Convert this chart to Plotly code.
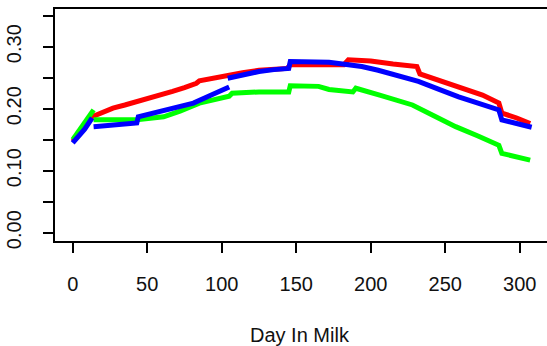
import plotly.graph_objects as go

# Data (day in milk vs value); None = break between segments
red_day = [0, 4, 8, 13, 20, 27, 35, 43, 51, 59, 67, 75, 83, 85, 95, 103, 114, 125, 136, 144, 146, 165, 182, 185, 200, 215, 231, 233, 246, 261, 275, 286, 288, 298, 307]
red_val = [0.147, 0.158, 0.170, 0.187, 0.195, 0.201, 0.206, 0.211, 0.216, 0.222, 0.228, 0.234, 0.241, 0.245, 0.250, 0.254, 0.258, 0.262, 0.264, 0.265, 0.271, 0.271, 0.271, 0.279, 0.277, 0.272, 0.268, 0.256, 0.246, 0.233, 0.222, 0.209, 0.193, 0.185, 0.176]

green_day = [0, 4, 8, 14, None, 14, 30, 43, 61, 72, 85, 96, 105, 107, 125, 145, 146, 165, 172, 188, 190, 206, 217, 228, 242, 257, 272, 286, 288, 298, 307]
green_val = [0.150, 0.163, 0.177, 0.198, None, 0.182, 0.182, 0.182, 0.187, 0.196, 0.209, 0.216, 0.220, 0.225, 0.227, 0.227, 0.237, 0.236, 0.231, 0.227, 0.233, 0.222, 0.215, 0.206, 0.189, 0.171, 0.156, 0.141, 0.128, 0.122, 0.117]

blue_day = [0, 4, 8, 13, None, 14, 30, 43, 44, 55, 68, 81, 93, 105, None, 104, 115, 125, 135, 145, 146, 172, 185, 194, 205, 217, 232, 245, 257, 259, 272, 286, 288, 298, 308]
blue_val = [0.145, 0.155, 0.167, 0.185, None, 0.171, 0.174, 0.177, 0.187, 0.193, 0.200, 0.209, 0.222, 0.235, None, 0.249, 0.255, 0.260, 0.263, 0.265, 0.276, 0.275, 0.271, 0.268, 0.262, 0.254, 0.244, 0.232, 0.219, 0.219, 0.209, 0.198, 0.182, 0.176, 0.170]

x_ticks = [0, 50, 100, 150, 200, 250, 300]
y_ticks = [0.00, 0.05, 0.10, 0.15, 0.20, 0.25, 0.30, 0.35]
y_labels = ["0.00", "", "0.10", "", "0.20", "", "0.30", ""]

fig = go.Figure()
for d, v, c in [(red_day, red_val, "#FF0000"), (green_day, green_val, "#00FF00"), (blue_day, blue_val, "#0000FF")]:
    fig.add_trace(go.Scatter(x=d, y=v, mode="lines", line=dict(color=c, width=5),
                             connectgaps=False, showlegend=False, hoverinfo="skip"))

font = dict(family="Liberation Sans, Arial, sans-serif", size=20, color="#111111")

fig.update_layout(
    width=547, height=346,
    margin=dict(l=55, r=0, t=9, b=105),
    paper_bgcolor="white", plot_bgcolor="white",
    font=font,
    xaxis=dict(range=[-11.9, 318.3], tickvals=x_ticks, ticktext=[str(t) for t in x_ticks],
               showgrid=False, zeroline=False, showline=True, mirror=True,
               linecolor="black", linewidth=1.5, ticks="outside", ticklen=10,
               tickwidth=1.5, tickcolor="black", ticklabelstandoff=14, tickfont=font),
    yaxis=dict(range=[-0.0134, 0.3608], tickvals=y_ticks, ticktext=y_labels,
               showgrid=False, zeroline=False, showline=True, mirror=False,
               linecolor="black", linewidth=1.5, ticks="outside", ticklen=10,
               tickwidth=1.5, tickcolor="black", tickangle=-90, ticklabelstandoff=14,
               tickfont=font),
    annotations=[dict(text="Day In Milk", xref="paper", yref="paper", x=0.498, y=-0.405,
                      xanchor="center", yanchor="middle", showarrow=False, font=font)],
)

fig.write_html("out.html")
